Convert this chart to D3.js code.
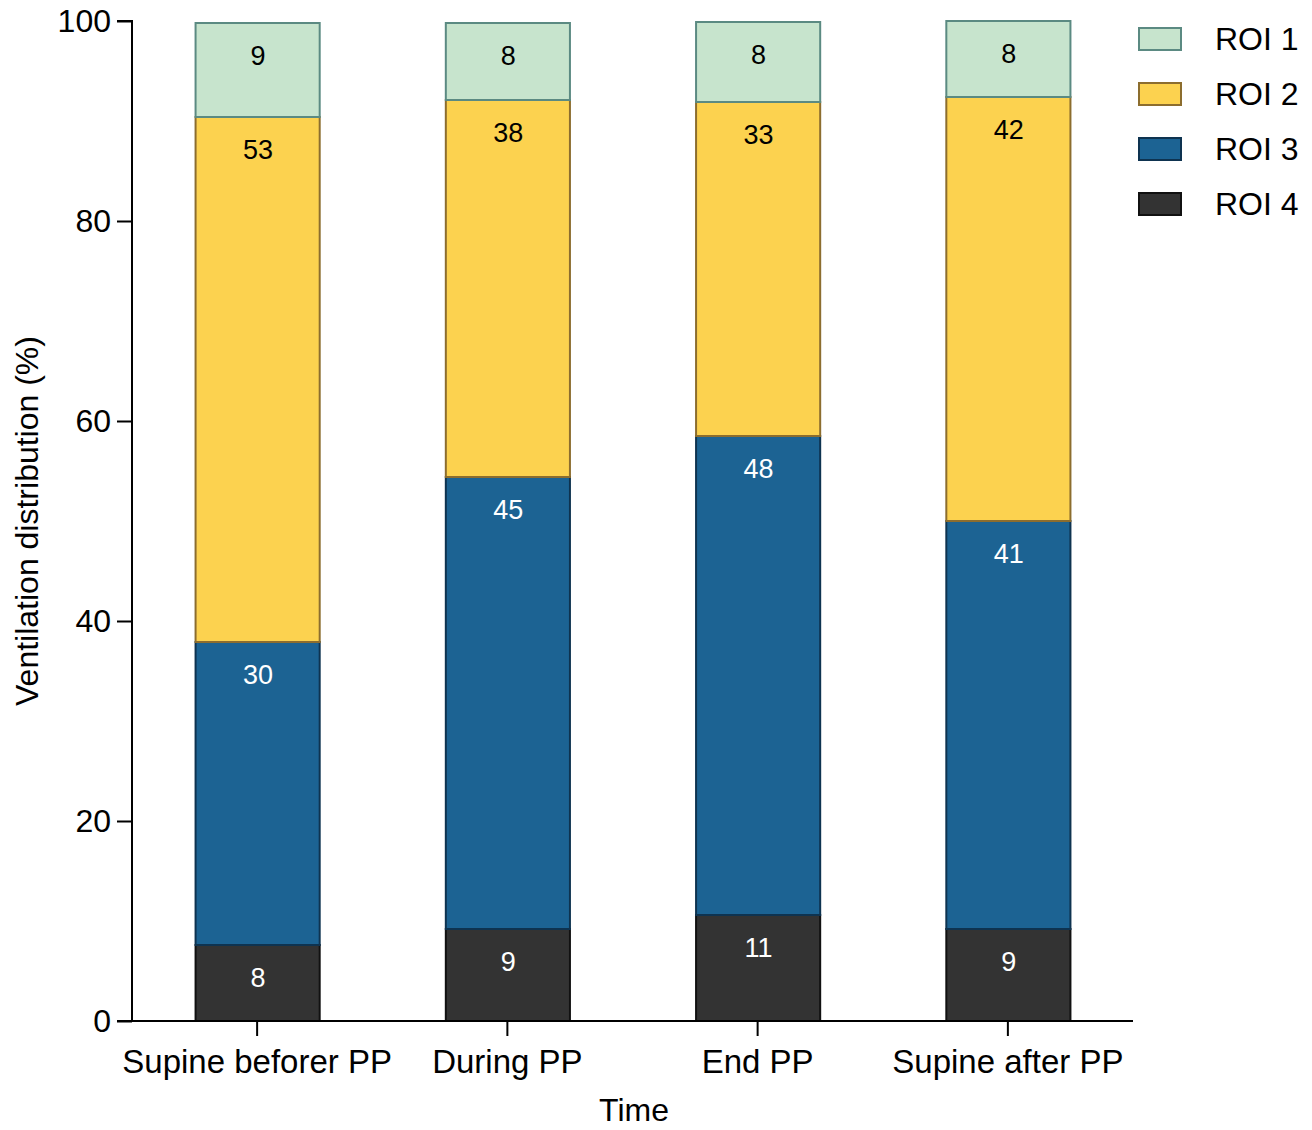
<!DOCTYPE html>
<html>
<head>
<meta charset="utf-8">
<script src="https://cdn.jsdelivr.net/npm/d3@7"></script>
<style>
  html, body { margin: 0; padding: 0; background: #fff; }
  svg { display: block; font-family: "Liberation Sans", Arial, Helvetica, sans-serif; }
</style>
</head>
<body>
<svg id="chart" width="1312" height="1130"></svg>
<script>
const categories = ["Supine beforer PP", "During PP", "End PP", "Supine after PP"];
const seriesNames = ["ROI 4", "ROI 3", "ROI 2", "ROI 1"];
const roi4 = [7.6, 9.2, 10.6, 9.2];
const roi3 = [30.3, 45.2, 47.9, 40.8];
const roi2 = [52.5, 37.7, 33.4, 42.4];
const roi1 = [9.4, 7.7, 8.0, 7.6];
const yTicks = [0, 20, 40, 60, 80, 100];
const legendOrder = ["ROI 1", "ROI 2", "ROI 3", "ROI 4"];

(function () {
const fills = {"ROI 1": "#c7e4cd", "ROI 2": "#fcd24f", "ROI 3": "#1c6393", "ROI 4": "#333333"};
const strokes = {"ROI 1": "#5b8a82", "ROI 2": "#8c6d2e", "ROI 3": "#0e3350", "ROI 4": "#111111"};
const textColors = {"ROI 1": "#000", "ROI 2": "#000", "ROI 3": "#fff", "ROI 4": "#fff"};

const seriesData = {"ROI 4": roi4, "ROI 3": roi3, "ROI 2": roi2, "ROI 1": roi1};
const table = categories.map((c, i) => {
  const row = {cat: c};
  seriesNames.forEach(s => row[s] = seriesData[s][i]);
  return row;
});

const svg = d3.select("#chart");
const mLeft = 132, mRight = 1133, mTop = 21, mBottom = 1021;
const FS = 32;

const x = d3.scaleBand().domain(categories).range([mLeft, mRight]).paddingInner(0.5).paddingOuter(0.25);
const y = d3.scaleLinear().domain([0, 100]).range([mBottom, mTop]);

const stack = d3.stack().keys(seriesNames)(table);

const g = svg.append("g");
stack.forEach(layer => {
  const key = layer.key;
  g.append("g").selectAll("rect").data(layer).join("rect")
    .attr("x", d => x(d.data.cat) + 1)
    .attr("width", x.bandwidth() - 1)
    .attr("y", d => y(d[1]))
    .attr("height", d => y(d[0]) - y(d[1]))
    .attr("fill", fills[key])
    .attr("stroke", strokes[key])
    .attr("stroke-width", 2);
});
stack.forEach(layer => {
  const key = layer.key;
  g.append("g").selectAll("text").data(layer).join("text")
    .attr("x", d => x(d.data.cat) + x.bandwidth() / 2 + 1)
    .attr("y", d => y(d[1]) + 33)
    .attr("text-anchor", "middle")
    .attr("dominant-baseline", "central")
    .attr("font-size", 27)
    .attr("fill", textColors[key])
    .text(d => Math.round(d[1] - d[0]));
});

const yAxis = svg.append("g").attr("transform", `translate(${mLeft},0)`)
  .call(d3.axisLeft(y).tickValues(yTicks).tickSize(15).tickPadding(6));
const xAxis = svg.append("g").attr("transform", `translate(0,${mBottom})`)
  .call(d3.axisBottom(x).tickSize(15).tickPadding(12));
[yAxis, xAxis].forEach(a => {
  a.select(".domain").attr("stroke", "#000").attr("stroke-width", 2);
  a.selectAll(".tick line").attr("stroke", "#000").attr("stroke-width", 2);
  a.selectAll(".tick text").attr("font-size", FS).attr("fill", "#000")
    .attr("font-family", '"Liberation Sans", Arial, Helvetica, sans-serif');
});
xAxis.selectAll(".tick text").attr("font-size", 33).attr("dy", "0.75em");
yAxis.select(".domain").attr("d", `M-15,${mTop}H0V${mBottom}H-15`);
xAxis.select(".domain").attr("d", `M${mLeft},0H${mRight}`);

svg.append("text")
  .attr("x", 634).attr("y", 1110)
  .attr("text-anchor", "middle").attr("dominant-baseline", "central")
  .attr("font-size", FS).text("Time");
svg.append("text")
  .attr("transform", `translate(27,${(mTop + mBottom) / 2}) rotate(-90)`)
  .attr("text-anchor", "middle").attr("dominant-baseline", "central")
  .attr("font-size", FS).text("Ventilation distribution (%)");

const legend = svg.append("g");
legendOrder.forEach((k, i) => {
  const cy = 39 + i * 55;
  legend.append("rect")
    .attr("x", 1139).attr("y", cy - 11).attr("width", 42).attr("height", 22)
    .attr("fill", fills[k]).attr("stroke", strokes[k]).attr("stroke-width", 2);
  legend.append("text")
    .attr("x", 1215).attr("y", cy)
    .attr("dominant-baseline", "central")
    .attr("font-size", FS).text(k);
});
})();
</script>
</body>
</html>
